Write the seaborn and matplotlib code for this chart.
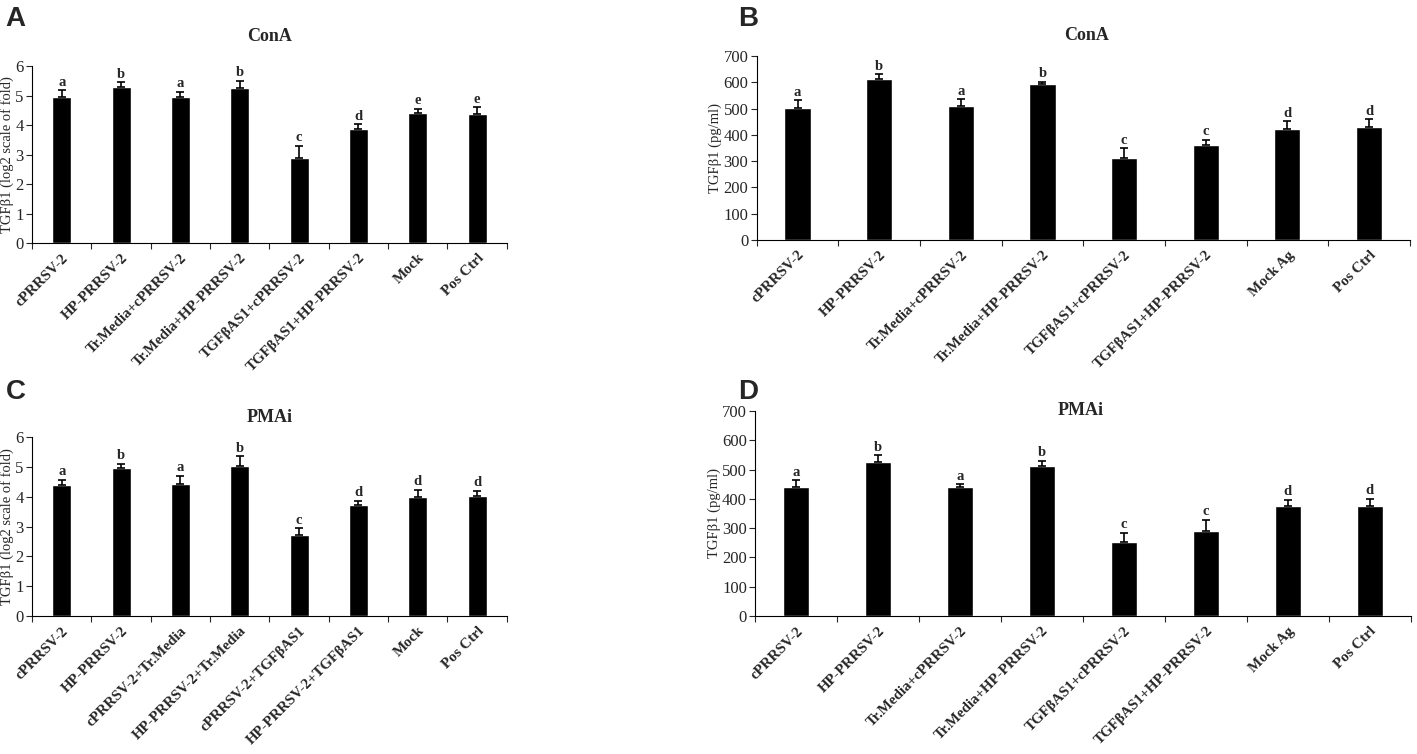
import numpy as np
import pandas as pd
import matplotlib
matplotlib.use('Agg')
import matplotlib.pyplot as plt
import seaborn as sns

# categories
cats_ab = ['cPRRSV-2', 'HP-PRRSV-2', 'Tr.Media+cPRRSV-2', 'Tr.Media+HP-PRRSV-2',
           'TGF\u03b2AS1+cPRRSV-2', 'TGF\u03b2AS1+HP-PRRSV-2', 'Mock', 'Pos Ctrl']
cats_b = ['cPRRSV-2', 'HP-PRRSV-2', 'Tr.Media+cPRRSV-2', 'Tr.Media+HP-PRRSV-2',
          'TGF\u03b2AS1+cPRRSV-2', 'TGF\u03b2AS1+HP-PRRSV-2', 'Mock Ag', 'Pos Ctrl']
cats_c = ['cPRRSV-2', 'HP-PRRSV-2', 'cPRRSV-2+Tr.Media', 'HP-PRRSV-2+Tr.Media',
          'cPRRSV-2+TGF\u03b2AS1', 'HP-PRRSV-2+TGF\u03b2AS1', 'Mock', 'Pos Ctrl']

# panel A - ConA, log2 fold
a_mean = [4.94, 5.30, 4.96, 5.25, 2.89, 3.88, 4.42, 4.39]
a_err = [0.25, 0.15, 0.17, 0.26, 0.41, 0.15, 0.13, 0.22]
a_let = ['a', 'b', 'a', 'b', 'c', 'd', 'e', 'e']

# panel B - ConA, pg/ml
b_mean = [502, 611, 509, 592, 313, 360, 421, 431]
b_err = [30, 20, 26, 11, 36, 21, 31, 29]
b_let = ['a', 'b', 'a', 'b', 'c', 'c', 'd', 'd']

# panel C - PMAi, log2 fold
c_mean = [4.39, 4.95, 4.42, 5.03, 2.70, 3.72, 3.99, 4.02]
c_err = [0.18, 0.16, 0.28, 0.33, 0.25, 0.14, 0.24, 0.18]
c_let = ['a', 'b', 'a', 'b', 'c', 'd', 'd', 'd']

# panel D - PMAi, pg/ml
d_mean = [442, 526, 442, 513, 251, 290, 374, 377]
d_err = [21, 22, 8, 16, 34, 38, 23, 23]
d_let = ['a', 'b', 'a', 'b', 'c', 'c', 'd', 'd']

sns.set_style('ticks')
plt.rcParams['font.family'] = ['Liberation Serif', 'DejaVu Serif']

fig = plt.figure(figsize=(14.17, 7.54), dpi=100)

panels = [
    ('A', [0.0226, 0.6777, 0.335, 0.2347], cats_ab, a_mean, a_err, a_let, 'ConA',
     'TGF\u03b21 (log2 scale of fold)', 6, 1),
    ('B', [0.534, 0.6817, 0.461, 0.244], cats_b, b_mean, b_err, b_let, 'ConA',
     'TGF\u03b21 (pg/ml)', 700, 100),
    ('C', [0.0226, 0.183, 0.335, 0.2374], cats_c, c_mean, c_err, c_let, 'PMAi',
     'TGF\u03b21 (log2 scale of fold)', 6, 1),
    ('D', [0.533, 0.183, 0.4625, 0.272], cats_b, d_mean, d_err, d_let, 'PMAi',
     'TGF\u03b21 (pg/ml)', 700, 100),
]

title_pos = {'A': 0.951, 'B': 0.953, 'C': 0.446, 'D': 0.455}
title_x = {'A': 0.19, 'B': 0.767, 'C': 0.19, 'D': 0.763}
label_pos = {'A': (0.004, 0.975), 'B': (0.521, 0.975), 'C': (0.004, 0.48), 'D': (0.521, 0.48)}

for letter, rect, cats, mean, err, lets, title, ylab, ymax, step in panels:
    ax = fig.add_axes(rect)
    df = pd.DataFrame({'group': cats, 'value': mean})
    sns.barplot(data=df, x='group', y='value', color='black', width=0.32,
                saturation=1, errorbar=None, ax=ax)
    x = np.arange(len(cats))
    ax.errorbar(x, mean, yerr=[np.zeros(len(err)), err], fmt='none',
                ecolor='black', elinewidth=1.2, capsize=3, capthick=1.2)
    for xi, m, e, l in zip(x, mean, err, lets):
        ax.text(xi, m + e + ymax * 0.008, l, ha='center', va='bottom',
                fontsize=10.5, fontweight='bold')
    ax.set_xlim(-0.5, len(cats) - 0.5)
    ax.set_ylim(0, ymax)
    ax.set_yticks(np.arange(0, ymax + step / 2, step))
    ax.set_xticks(x)
    ax.set_xticklabels(cats, rotation=45, ha='right', rotation_mode='anchor',
                       fontsize=10.8, fontweight='bold')
    ax.set_xticks(np.arange(-0.5, len(cats), 1), minor=True)
    ax.tick_params(axis='x', which='major', length=0, pad=6)
    ax.tick_params(axis='x', which='minor', length=4, width=0.8)
    ax.tick_params(axis='y', length=4, width=0.8, labelsize=12, pad=2)
    ax.set_xlabel('')
    ax.set_ylabel(ylab, fontsize=10.5, labelpad=1)
    for s in ['top', 'right']:
        ax.spines[s].set_visible(False)
    for s in ['left', 'bottom']:
        ax.spines[s].set_linewidth(0.8)
        ax.spines[s].set_color('black')
    fig.text(title_x[letter], title_pos[letter], title, ha='center', va='center',
             fontsize=13, fontweight='bold')
    lx, ly = label_pos[letter]
    fig.text(lx, ly, letter, ha='left', va='center', fontsize=20,
             fontweight='bold', family='Liberation Sans')

fig.savefig('out.png', dpi=100, facecolor='white')
